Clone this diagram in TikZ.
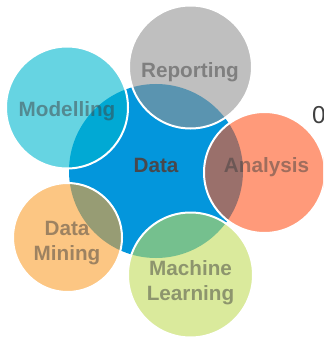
\documentclass[tikz,border=0pt]{standalone}
\usepackage{fontspec}
\setmainfont{Liberation Sans}
\begin{document}
\begin{tikzpicture}[x=1pt,y=-1pt]
\definecolor{hubblue}{RGB}{3,150,220}
\definecolor{repgray}{RGB}{148,148,148}
\definecolor{modcyan}{RGB}{0,183,207}
\definecolor{anaorange}{RGB}{255,87,33}
\definecolor{minorange}{RGB}{250,160,48}
\definecolor{mlgreen}{RGB}{193,220,90}
\definecolor{labelgray}{RGB}{64,64,64}
\definecolor{hubtext}{RGB}{72,72,76}
\tikzset{
  hub/.style={circle,inner sep=0pt,fill=hubblue,minimum size=174pt},
  petal/.style={circle,inner sep=0pt,fill=#1,fill opacity=0.6,draw=white,draw opacity=1,line width=2pt},
  lbl/.style={font=\fontsize{20.7pt}{25pt}\selectfont\bfseries,text=labelgray,text opacity=0.5,inner sep=0pt,align=center,anchor=base},
}
\useasboundingbox (0,0) rectangle (323,339);
\clip (0,0) rectangle (323,339);
\node[hub] (data) at (156,171) {};
\node[petal=repgray,minimum size=123pt] (rep) at (190.5,67) {};
\node[petal=modcyan,minimum size=122pt] (mod) at (67,107.5) {};
\node[petal=anaorange,minimum size=121pt] (ana) at (264.5,172.5) {};
\node[petal=minorange,minimum size=109pt] (min) at (67.5,237.5) {};
\node[petal=mlgreen,minimum size=125pt] (ml) at (190.5,275) {};
\node[lbl,text=hubtext,text opacity=1] (tdata) at (156,172) {Data};
\node[lbl] (trep) at (190,78) {Reporting};
\node[lbl] (tmod) at (67,116.5) {Modelling};
\node[lbl] (tana) at (266.5,172) {Analysis};
\node[lbl] (tmin) at (67,260) {Data\\Mining};
\node[lbl] (tml) at (190.5,300) {Machine\\Learning};
\node[font=\fontsize{24.5pt}{28pt}\selectfont,text=black!75,inner sep=0pt,anchor=base west] (zero) at (312,124) {0};
\end{tikzpicture}
\end{document}
